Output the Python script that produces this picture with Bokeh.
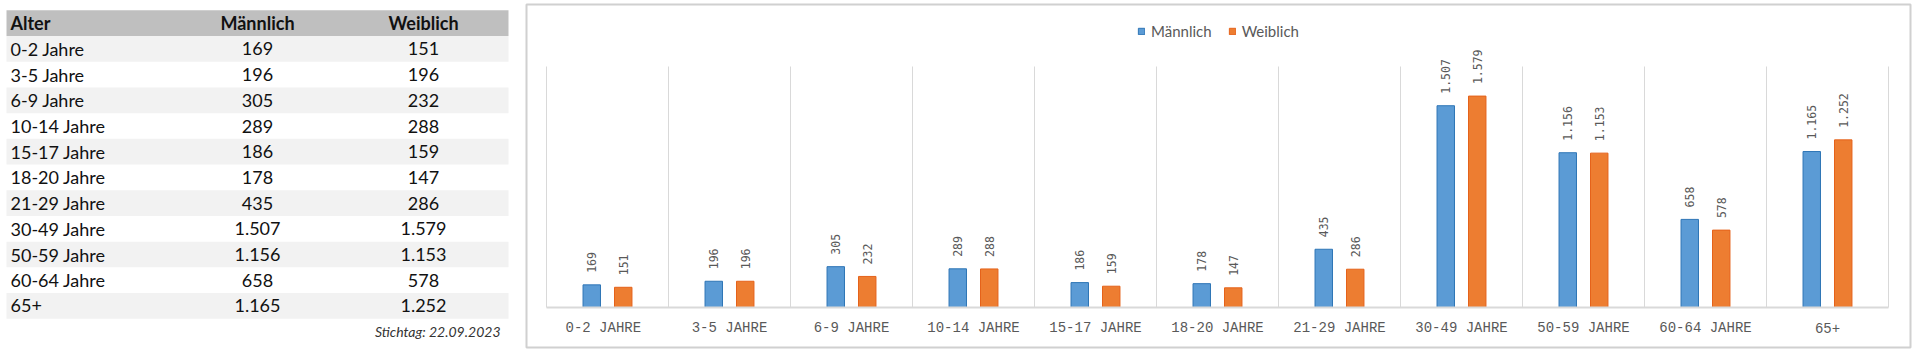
import math
from bokeh.plotting import figure
from bokeh.models import Range1d, ColumnDataSource, Legend, LegendItem
from bokeh.layouts import row
from bokeh.core.properties import value
from bokeh.embed import file_html
from bokeh.resources import INLINE

# ---------------- data ----------------
categories = ["0-2  Jahre", "3-5 Jahre", "6-9 Jahre", "10-14 Jahre", "15-17 Jahre",
              "18-20 Jahre", "21-29 Jahre", "30-49 Jahre", "50-59 Jahre",
              "60-64 Jahre", "65+"]
maennlich = [169, 196, 305, 289, 186, 178, 435, 1507, 1156, 658, 1165]
weiblich = [151, 196, 232, 288, 159, 147, 286, 1579, 1153, 578, 1252]
header = ["Alter", "Männlich", "Weiblich"]
series_names = ["Männlich", "Weiblich"]
stichtag = "Stichtag: 22.09.2023"
y_axis_max = 1800


def de(v):
    return f"{v:,}".replace(",", ".")


BLUE, BLUE_LINE = "#5b9bd5", "#2e75b6"
ORANGE, ORANGE_LINE = "#ed7d31", "#e5621a"
GRID = "#d9d9d9"
TXT = "#595959"

# ---------------- table figure ----------------
ROW_PX = 26.3
TOP_PX = 6
T_H = 351
n_rows = len(categories) + 1
t = figure(width=516, height=T_H,
           x_range=Range1d(0, 516),
           y_range=Range1d(-0.5 + (T_H - TOP_PX) / ROW_PX, -0.5 - TOP_PX / ROW_PX),
           min_border=0, x_axis_location=None, y_axis_location=None,
           output_backend="svg", toolbar_location=None, outline_line_color=None,
           background_fill_color="white", border_fill_color="white")
t.grid.visible = False

# header band
t.hbar(y=[0], left=6, right=508, height=1, fill_color="#bfbfbf", line_color=None)
# striped rows
stripe_rows = [i + 1 for i in range(len(categories)) if i % 2 == 0]
t.hbar(y=stripe_rows, left=6, right=508, height=1, fill_color="#f2f2f2", line_color=None)

col_x = [10, 257, 423]
col_align = ["left", "center", "center"]
for j, h in enumerate(header):
    t.text(x=[col_x[j]], y=[0], text=[h], text_align=col_align[j], text_baseline="middle",
           text_font=value("Lato"), text_font_size="18px", text_font_style="bold",
           text_color="#111111")

rows_y = [i + 1 for i in range(len(categories))]
tsrc = ColumnDataSource(dict(y=rows_y, cat=categories,
                             m=[de(v) for v in maennlich], w=[de(v) for v in weiblich]))
for j, field in enumerate(["cat", "m", "w"]):
    t.text(x=col_x[j], y="y", text=field, source=tsrc, text_align=col_align[j],
           text_baseline="middle", text_font=value("Lato"), text_font_size="18px",
           text_color="#111111")

t.text(x=[500], y=[n_rows], text=[stichtag], text_align="right", text_baseline="middle",
       text_font=value("Lato"), text_font_size="14px", text_font_style="italic",
       text_color="#333333")

# ---------------- chart figure ----------------
CAT_PX = 122.0
FRAME_W = 1384
FRAME_LEFT_GAP = 20  # frame edge to first category boundary
BASE_PX = 307 - 4    # baseline from frame top
PLOT_TOP_PX = 66 - 4
FRAME_H = 343
scale = (BASE_PX - PLOT_TOP_PX) / y_axis_max
x0 = -FRAME_LEFT_GAP / CAT_PX
p = figure(width=1404, height=351,
           x_range=Range1d(x0, x0 + FRAME_W / CAT_PX),
           y_range=Range1d(-(FRAME_H - BASE_PX) / scale, BASE_PX / scale),
           min_border_left=10, min_border_right=10, min_border_top=4, min_border_bottom=4,
           x_axis_location=None, y_axis_location=None,
           output_backend="svg", toolbar_location=None,
           outline_line_color="#d0d0d0", outline_line_width=2,
           background_fill_color="white", border_fill_color="white")
p.grid.visible = False

n = len(categories)
centers = [i + 0.5 for i in range(n)]
# vertical category gridlines
p.segment(x0=list(range(n + 1)), y0=0, x1=list(range(n + 1)), y1=y_axis_max,
          line_color=GRID, line_width=1)

bw = 0.143
off = 0.129
src = ColumnDataSource(dict(
    xm=[c - off for c in centers], xw=[c + off for c in centers],
    m=maennlich, w=weiblich,
    ml=[de(v) for v in maennlich], wl=[de(v) for v in weiblich],
    lab=[c.upper() for c in categories], xc=centers, zero=[0] * n))

rm = p.vbar(x="xm", top="m", bottom=0, width=bw, source=src,
            fill_color=BLUE, line_color=BLUE_LINE, line_width=1)
rw = p.vbar(x="xw", top="w", bottom=0, width=bw, source=src,
            fill_color=ORANGE, line_color=ORANGE_LINE, line_width=1)

# baseline
p.segment(x0=[0], y0=[0], x1=[n], y1=[0], line_color=GRID, line_width=2)

# data labels (rotated)
for xf, yf, lf in [("xm", "m", "ml"), ("xw", "w", "wl")]:
    p.text(x=xf, y=yf, text=lf, source=src, angle=math.pi / 2, y_offset=-12,
           text_align="left", text_baseline="middle",
           text_font=value("DejaVu Sans Mono"), text_font_size="11.5px", text_color=TXT)

# category labels
p.text(x="xc", y="zero", text="lab", source=src, y_offset=20,
       text_align="center", text_baseline="middle",
       text_font=value("Liberation Mono"), text_font_size="14px", text_color=TXT)

legend = Legend(items=[LegendItem(label=series_names[0], renderers=[rm]),
                       LegendItem(label=series_names[1], renderers=[rw])],
                orientation="horizontal", location="top_center",
                margin=17, padding=17, spacing=16, label_standoff=6,
                glyph_width=8, glyph_height=8, label_height=20,
                label_text_font="Lato", label_text_font_size="15px",
                label_text_color=TXT, border_line_color=None,
                background_fill_alpha=0)
p.add_layout(legend, "center")

layout = row(t, p)
open("out.html", "w").write(file_html(layout, INLINE))
